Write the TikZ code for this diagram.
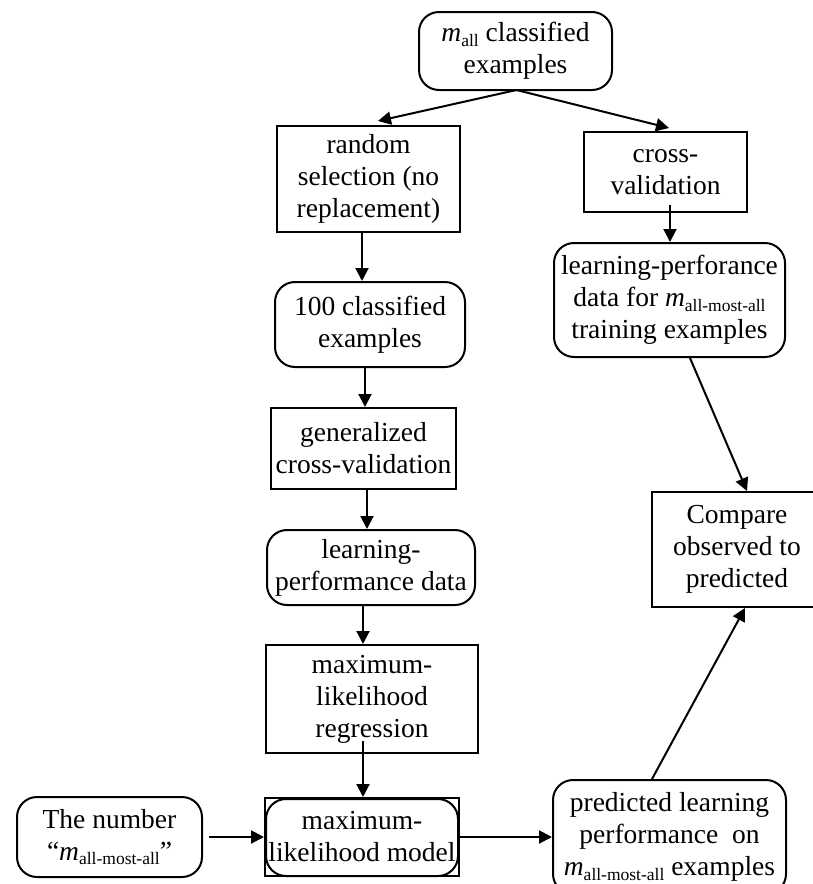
\documentclass[tikz,border=0pt]{standalone}
\usepackage{fontspec}
\setmainfont{Liberation Serif}
\usetikzlibrary{arrows.meta}
\newcommand{\msb}[1]{\textit{m}\raisebox{-4.5pt}{\fontsize{17.5}{18}\selectfont #1}}
\tikzset{
  base/.style={draw, line width=2pt, align=center, inner sep=0pt, font=\fontsize{27.5}{32}\selectfont},
  sqbox/.style={base},
  rbox/.style={base, rounded corners=20pt},
  arr/.style={line width=2pt, -{Triangle[length=13pt,width=13pt]}},
}
\begin{document}
\begin{tikzpicture}[x=1pt,y=-1pt]
\useasboundingbox (0,0) rectangle (813,884);
\clip (0,0) rectangle (813,884);
% nodes
\node[rbox, minimum width=193pt, minimum height=78pt] (top) at (515.5,51) {\msb{all} classified\\examples};
\node[sqbox, minimum width=183pt, minimum height=106pt] (rand) at (368.5,179) {random\\selection (no\\replacement)};
\node[sqbox, minimum width=163pt, minimum height=80pt] (cv) at (665.5,172) {cross-\\validation};
\node[rbox, minimum width=190pt, minimum height=85pt] (c100) at (370,324.5) {100 classified\\examples};
\node[sqbox, minimum width=185pt, minimum height=81pt] (gen) at (363.5,448.5) {generalized\\cross-validation};
\node[rbox, minimum width=208pt, minimum height=75pt] (lpd) at (371,567.5) {learning-\\performance data};
\node[sqbox, minimum width=212pt, minimum height=108pt] (reg) at (372,699) {maximum-\\likelihood\\regression};
\node[sqbox, minimum width=194pt, minimum height=78pt] (model) at (362,837) {maximum-\\likelihood model};
\draw[line width=2pt, rounded corners=20pt] ([xshift=2pt,yshift=-2pt]model.north west) rectangle ([xshift=-2pt,yshift=1pt]model.south east);
\node[rbox, minimum width=185pt, minimum height=80pt] (num) at (109.5,837) {The number\\“\msb{all-most-all}”};
\node[rbox, minimum width=231pt, minimum height=114pt] (lpf) at (669.5,300) {learning-perforance\\data for \msb{all-most-all}\\training examples};
\node[sqbox, minimum width=170pt, minimum height=115pt] (cmp) at (737,549.5) {Compare\\observed to\\predicted};
\node[rbox, minimum width=233pt, minimum height=114pt] (pred) at (669.5,837) {predicted learning\\performance\ \ on\\\msb{all-most-all} examples};
% connectors
\draw[arr] ([xshift=1pt,yshift=1pt]top.south) -- ([xshift=9.5pt,yshift=4pt]rand.north);
\draw[arr] ([xshift=1pt,yshift=1pt]top.south) -- ([xshift=3.5pt,yshift=3pt]cv.north);
\draw[arr] ([xshift=-6.5pt]rand.south) -- ([xshift=-8pt]c100.north);
\draw[arr] ([xshift=-5pt]c100.south) -- ([xshift=1.5pt]gen.north);
\draw[arr] ([xshift=3.5pt]gen.south) -- ([xshift=-4pt]lpd.north);
\draw[arr] ([xshift=-8pt]lpd.south) -- ([xshift=-9pt]reg.north);
\draw[arr] ([xshift=-9pt,yshift=13pt]reg.south) -- ([xshift=1pt]model.north);
\draw[arr] ([xshift=6pt]num.east) -- (model.west);
\draw[arr] (model.east) -- (pred.west);
\draw[arr] ([xshift=4.5pt,yshift=8pt]cv.south) -- ([xshift=0.5pt]lpf.north);
\draw[arr] ([xshift=20.5pt]lpf.south) -- ([xshift=10pt]cmp.north);
\draw[arr] ([xshift=-17.5pt]pred.north) -- ([xshift=8pt]cmp.south);
\end{tikzpicture}
\end{document}
